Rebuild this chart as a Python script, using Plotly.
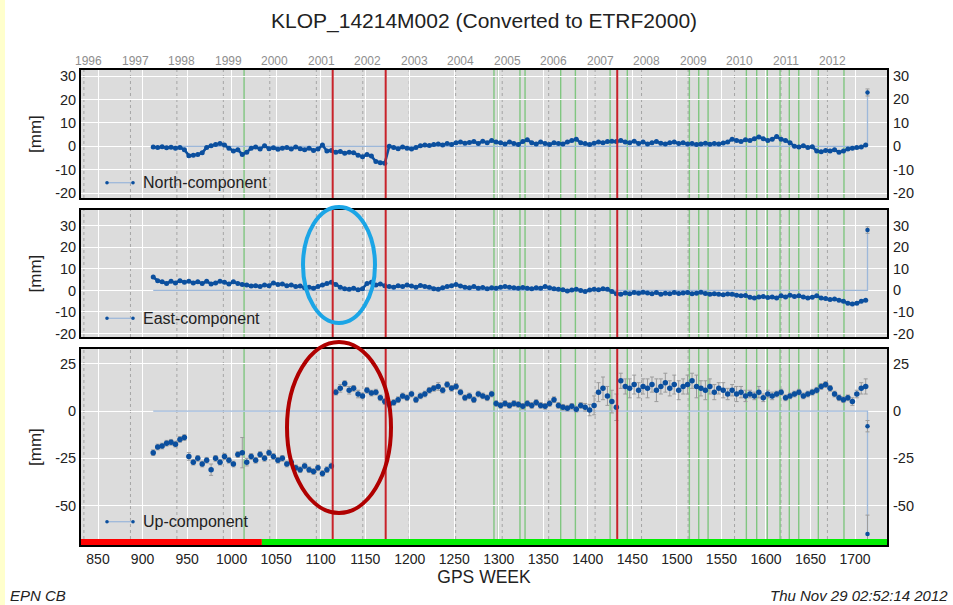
import datetime as dt
import plotly.graph_objects as go

# ---------------- data ----------------
WEEKS = list(range(912, 1713, 5))  # GPS weeks at which values were read

NORTH = [
    -0.3, -0.5, -0.2, -0.6, -0.4, -0.8, -0.5, -1.5, -4.0, -3.8,
    -3.5, -2.8, -0.5, 0.2, 0.8, 1.2, 0.5, -0.8, -2.0, -1.5,
    -3.5, -2.5, -0.8, -0.3, -1.2, 0.2, -1.0, -0.6, -1.3, -0.8,
    -0.5, -1.2, -0.3, -1.0, -1.5, -0.8, -1.8, -1.2, 0.5, -2.0,
    -1.8, -2.5, -2.2, -3.0, -2.5, -2.8, -3.8, -4.5, -3.5, -4.2,
    -6.5, -7.0, -7.2, 0.0, -0.5, -1.0, -0.3, -0.8, -1.2, -0.5,
    0.2, 0.5, 0.3, 0.8, 1.0, 0.6, 1.2, 0.8, 1.5, 1.8,
    1.3, 1.6, 2.0, 1.2, 2.2, 1.5, 2.5, 1.8, 1.5, 1.0,
    1.8, 1.2, 0.8, 2.0, 2.8, 1.5, 1.0, 1.8, 1.2, 0.8,
    1.5, 1.2, 1.0, 1.8, 2.5, 3.0, 1.5, 1.2, 0.8, 1.3,
    1.8, 1.5, 2.0, 2.2, 2.0, 2.5, 1.8, 1.5, 2.2, 1.2,
    1.8, 1.0, 1.5, 2.0, 1.3, 1.0, 1.5, 1.8, 1.2, 1.5,
    1.0, 1.2, 0.8, 1.0, 1.3, 0.9, 1.2, 1.0, 1.4, 1.8,
    3.0, 2.5, 2.0, 2.8, 2.5, 3.2, 4.0, 3.2, 2.5, 3.0,
    4.2, 3.0, 2.5, 1.5, 0.0, -0.3, 0.2, -0.5, -0.2, -2.0,
    -2.3, -1.8, -2.0, -1.5, -2.5, -2.0, -1.2, -0.8, -0.5, -0.3,
    0.5,
]

EAST = [
    6.2, 4.5, 4.0, 3.2, 4.2, 3.5, 4.5, 3.8, 4.2, 3.5,
    4.0, 3.2, 4.2, 3.0, 3.5, 4.2, 3.8, 3.0, 4.0, 3.2,
    2.8, 2.5, 2.0, 2.2, 1.8, 2.5, 2.2, 3.5, 2.8, 3.0,
    2.2, 2.5, 1.8, 2.0, 1.2, 1.5, 1.0, 1.8, 2.5, 3.2,
    3.8, 2.8, 1.5, 0.8, 0.5, 1.0, 0.3, 0.8, 3.2, 3.8,
    2.5, 3.0, 2.2, 1.8, 1.5, 2.2, 1.8, 2.5, 2.0, 1.5,
    2.3, 1.8, 1.5, 0.8, 0.5, 1.2, 1.8, 2.2, 2.8, 2.0,
    1.5, 1.2, 1.8, 1.0, 1.4, 0.8, 1.2, 1.0, 1.5, 1.8,
    1.5, 1.2, 1.0, 1.3, 1.0, 0.8, 1.2, 1.0, 1.8, 1.2,
    0.8, 0.5, 0.3, -0.3, 0.2, 0.5, 0.0, -0.5, 0.2, 0.5,
    0.3, 0.8, 0.5, -0.5, -1.5, -1.8, -1.2, -1.5, -1.0, -1.3,
    -0.8, -1.2, -1.5, -1.0, -1.8, -1.3, -1.5, -1.0, -1.4, -1.2,
    -1.0, -1.5, -1.3, -0.9, -1.4, -1.8, -1.5, -1.8, -2.0, -1.6,
    -1.8, -2.2, -2.5, -2.3, -3.2, -3.5, -3.0, -2.8, -3.3, -3.0,
    -3.5, -2.5, -3.0, -2.2, -2.8, -2.5, -3.0, -3.5, -3.2, -2.5,
    -3.5, -3.8, -4.2, -4.0, -4.5, -5.0, -6.0, -6.3, -6.0, -5.0,
    -4.5,
]

UP = [
    -22, -19, -18.5, -17, -16.5, -17.5, -15, -14, -24, -27,
    -25, -28, -26, -31, -25, -27, -24, -26, -28, -23,
    -22, -27, -24, -26, -23, -25, -22, -24, -26, -25,
    -28, -27, -30, -31, -29, -31, -32, -30, -33, -31,
    -29, 10, 12, 14.5, 11, 12, 9, 8, 11, 9.5,
    10, 7, 5, 3.5, 4.5, 6, 8, 7, 9, 6,
    8, 9, 11, 12, 13, 11, 14, 12, 13, 10,
    7, 8, 6, 9, 8, 7, 9, 4, 3, 4,
    3, 4, 3.5, 2.5, 4, 3, 4.5, 3, 2.5, 4,
    6, 3, 2, 1.5, 2.5, 1, 3, 2, 0.5, 3,
    10, 12, 8, 5, 2, 16, 13, 12, 14, 11,
    13, 12, 14, 11, 13, 15, 12, 14, 11, 13,
    14, 16, 13, 12, 11, 13, 10, 12, 11, 9,
    11, 9, 10, 8, 9, 8, 10, 7, 9, 8,
    9, 10, 7, 8, 9, 10, 8, 9, 10, 11,
    13, 14, 12, 9, 7, 6, 7, 5, 9, 12,
    13,
]

UP_ERR = [
    1.5, 1.5, 1.5, 1.5, 1.5, 1.5, 1.5, 1.5, 2, 1.5,
    1.5, 1.5, 1.5, 3, 1.5, 1.5, 1.5, 1.5, 1.5, 1.5,
    8, 2, 1.5, 1.5, 1.5, 1.5, 1.5, 1.5, 1.5, 1.5,
    1.5, 1.5, 1.5, 1.5, 1.5, 1.5, 1.5, 1.5, 1.5, 1.5,
    1.5, 1.5, 2, 1.5, 2, 1.5, 2, 1.5, 1.5, 1.5,
    1.5, 1.5, 1.5, 1.5, 1.5, 1.5, 1.5, 1.5, 1.5, 1.5,
    1.5, 1.5, 1.5, 1.5, 2, 1.5, 1.5, 1.5, 1.5, 1.5,
    1.5, 1.5, 1.5, 1.5, 1.5, 1.5, 1.5, 1.5, 1.5, 1.5,
    1.5, 1.5, 1.5, 1.5, 1.5, 1.5, 1.5, 1.5, 1.5, 1.5,
    1.5, 1.5, 1.5, 1.5, 1.5, 1.5, 1.5, 2, 3, 5,
    5, 6, 5, 6, 7, 4, 4, 5, 5, 4,
    4, 5, 4, 6, 4, 5, 4, 5, 5, 4,
    5, 4, 6, 4, 5, 4, 4, 3, 4, 3,
    3, 4, 3, 3, 2, 2, 3, 2, 2, 2,
    1.5, 1.5, 1.5, 1.5, 1.5, 1.5, 1.5, 1.5, 1.5, 1.5,
    1.5, 1.5, 1.5, 1.5, 1.5, 1.5, 1.5, 2, 2, 3,
    4,
]

SPIKE_WEEK = 1714
NORTH_SPIKE = [23]
EAST_SPIKE = [28]
UP_SPIKE = [-8, -65]
UP_SPIKE_ERR = [3, 10]

GREEN_EVENTS = [1014, 1294.6, 1299.5, 1323.8, 1329.5, 1369.5, 1386, 1425, 1444.3,
                1514, 1524.5, 1535, 1578, 1589.6, 1601.5, 1615.8, 1626.2, 1636.8,
                1658.8, 1687.6]
RED_EVENTS = [1113.5, 1173, 1433]
STATUS_CHANGE_WEEK = 1034  # red -> green bar

YEARS = list(range(1996, 2013))
X_TICKS = list(range(850, 1701, 50))

TITLE = "KLOP_14214M002 (Converted to ETRF2000)"
COMPONENTS = ["North-component", "East-component", "Up-component"]

# ---------------- layout helpers ----------------
W, H = 953, 605
ML, MR, MT, MB = 81, 66, 70, 60
PW, PH = W - ML - MR, H - MT - MB


def px_x(p):
    return (p - ML) / PW


def px_y(p):
    return (H - MB - p) / PH


X_RANGE = [830.9, 1735.9]
Y_RANGES = [[-22.1, 32.6], [-21.6, 37.3], [-70.8, 32.8]]
Y_TICKS = [[-20, -10, 0, 10, 20, 30], [-20, -10, 0, 10, 20, 30], [-50, -25, 0, 25]]
DOMAINS = [[px_y(198), 1.0], [px_y(337), px_y(210)], [0.0, px_y(349)]]
LEGEND_Y = [182.7, 318.3, 521.7]

GPS_EPOCH = dt.date(1980, 1, 6)
YEAR_WEEKS = [(dt.date(y, 1, 1) - GPS_EPOCH).days / 7.0 for y in YEARS]

BLUE = "#0B4F9E"
REF = "#9DB8DA"
BG = "#DCDCDC"
TXT = "#222222"
FONT = "Liberation Sans, Arial, Helvetica, sans-serif"

fig = go.Figure()

series = [NORTH, EAST, UP]
spikes = [NORTH_SPIKE, EAST_SPIKE, UP_SPIKE]
for i in range(3):
    xa = "x" if i == 0 else f"x{i+1}"
    ya = "y" if i == 0 else f"y{i+1}"
    sp = spikes[i]
    fig.add_trace(go.Scatter(
        x=[WEEKS[0], SPIKE_WEEK, SPIKE_WEEK], y=[0, 0, min(sp) if i == 2 else max(sp)],
        mode="lines", line=dict(color=REF, width=1.3),
        xaxis=xa, yaxis=ya, showlegend=False, hoverinfo="skip"))
    if i < 2:
        fig.add_trace(go.Scatter(
            x=WEEKS, y=series[i], mode="lines",
            line=dict(color=BLUE, width=2.6),
            xaxis=xa, yaxis=ya, showlegend=False, hoverinfo="skip"))
    err = dict(type="data", array=UP_ERR, color="#9C9C9C", thickness=1, width=2) if i == 2 else None
    fig.add_trace(go.Scatter(
        x=WEEKS, y=series[i], mode="markers",
        marker=dict(color=BLUE, size=5 if i < 2 else 5.5),
        error_y=err, xaxis=xa, yaxis=ya, showlegend=False))
    sp_err = UP_SPIKE_ERR if i == 2 else [1.5]
    fig.add_trace(go.Scatter(
        x=[SPIKE_WEEK] * len(sp), y=sp, mode="markers",
        marker=dict(color=BLUE, size=4.5),
        error_y=dict(type="data", array=sp_err, color="#9C9C9C", thickness=1, width=2),
        xaxis=xa, yaxis=ya, showlegend=False))

layout = dict(
    width=W, height=H, autosize=False,
    margin=dict(l=ML, r=MR, t=MT, b=MB),
    paper_bgcolor="white", plot_bgcolor=BG,
    font=dict(family=FONT, color=TXT, size=14),
    showlegend=False,
)

for i in range(3):
    xk = "xaxis" if i == 0 else f"xaxis{i+1}"
    yk = "yaxis" if i == 0 else f"yaxis{i+1}"
    ya = "y" if i == 0 else f"y{i+1}"
    xa = "x" if i == 0 else f"x{i+1}"
    layout[xk] = dict(
        domain=[0, 1], anchor=ya, range=X_RANGE, tickvals=X_TICKS,
        showticklabels=(i == 2), showgrid=True, gridcolor="white", gridwidth=1,
        zeroline=False, showline=True, linecolor="black", linewidth=2, mirror=True,
        ticks="", tickfont=dict(size=14, color=TXT),
    )
    layout[yk] = dict(
        domain=DOMAINS[i], anchor=xa, range=Y_RANGES[i], tickvals=Y_TICKS[i],
        ticktext=[str(v) for v in Y_TICKS[i]],
        showgrid=True, gridcolor="white", gridwidth=1, zeroline=False,
        showline=True, linecolor="black", linewidth=2, mirror=True,
        ticks="", tickfont=dict(size=14.5, color=TXT),
    )

layout["xaxis3"]["title"] = dict(text="GPS WEEK", font=dict(size=17.5, color=TXT), standoff=2)
fig.update_layout(**layout)

shapes = []
shapes.append(dict(type="rect", xref="paper", yref="paper", x0=px_x(0), x1=px_x(5),
                   y0=px_y(H), y1=px_y(0), fillcolor="#FFFFCC", line=dict(width=0), layer="below"))
for i in range(3):
    xa = "x" if i == 0 else f"x{i+1}"
    yd = ("y" if i == 0 else f"y{i+1}") + " domain"
    for w in YEAR_WEEKS:
        if X_RANGE[0] < w < X_RANGE[1]:
            shapes.append(dict(type="line", xref=xa, yref=yd, x0=w, x1=w, y0=0, y1=1,
                               line=dict(color="#A5A5A5", width=1, dash="3px,3px"), layer="below"))
    for w in GREEN_EVENTS:
        shapes.append(dict(type="line", xref=xa, yref=yd, x0=w, x1=w, y0=0, y1=1,
                           line=dict(color="#80C680", width=1.4), layer="below"))
    for w in RED_EVENTS:
        shapes.append(dict(type="line", xref=xa, yref=yd, x0=w, x1=w, y0=0, y1=1,
                           line=dict(color="#C8222A", width=2), layer="above"))
shapes.append(dict(type="rect", xref="x3", yref="y3 domain", x0=X_RANGE[0], x1=STATUS_CHANGE_WEEK,
                   y0=0, y1=0.03, fillcolor="#FF0000", line=dict(width=0), layer="above"))
shapes.append(dict(type="rect", xref="x3", yref="y3 domain", x0=STATUS_CHANGE_WEEK, x1=X_RANGE[1],
                   y0=0, y1=0.03, fillcolor="#00EE00", line=dict(width=0), layer="above"))

annotations = []
for i, name in enumerate(COMPONENTS):
    ly = LEGEND_Y[i]
    ya = "y" if i == 0 else f"y{i+1}"
    shapes.append(dict(type="line", xref="paper", yref="paper", x0=px_x(107), x1=px_x(133),
                       y0=px_y(ly), y1=px_y(ly), line=dict(color=REF, width=1.3), layer="above"))
    for cx in (107, 133):
        shapes.append(dict(type="circle", xref="paper", yref="paper",
                           x0=px_x(cx - 1.8), x1=px_x(cx + 1.8), y0=px_y(ly + 1.8), y1=px_y(ly - 1.8),
                           fillcolor=BLUE, line=dict(width=0), layer="above"))
    annotations.append(dict(xref="paper", yref="paper", x=px_x(141), y=px_y(ly),
                            xanchor="left", yanchor="middle", showarrow=False,
                            text=name, font=dict(size=16, color=TXT)))
    d = DOMAINS[i]
    annotations.append(dict(xref="paper", yref="paper", x=px_x(35), y=(d[0] + d[1]) / 2,
                            xanchor="center", yanchor="middle", showarrow=False, textangle=-90,
                            text="[mm]", font=dict(size=17, color=TXT)))
    for v in Y_TICKS[i]:
        annotations.append(dict(xref="paper", yref=ya, x=px_x(891), y=v, xanchor="left",
                                yanchor="middle", showarrow=False, text=str(v),
                                font=dict(size=14.5, color=TXT)))

for y, w in zip(YEARS, YEAR_WEEKS):
    annotations.append(dict(xref="x", yref="paper", x=w, xshift=5, y=px_y(61), xanchor="center",
                            yanchor="middle", showarrow=False, text=str(y),
                            font=dict(size=12, color="#8E8E8E")))

shapes.append(dict(type="circle", xref="paper", yref="paper", x0=px_x(303), x1=px_x(375),
                   y0=px_y(323), y1=px_y(207), line=dict(color="#1BA5E6", width=4), layer="above"))
shapes.append(dict(type="circle", xref="paper", yref="paper", x0=px_x(287), x1=px_x(391),
                   y0=px_y(513), y1=px_y(342), line=dict(color="#B00000", width=4), layer="above"))

annotations.append(dict(xref="paper", yref="paper", x=px_x(484), y=px_y(20.7), xanchor="center",
                        yanchor="middle", showarrow=False, text=TITLE, font=dict(size=21, color=TXT)))
annotations.append(dict(xref="paper", yref="paper", x=px_x(8), y=px_y(595), xanchor="left",
                        yanchor="middle", showarrow=False, text="<i>EPN CB</i>", font=dict(size=15, color=TXT)))
annotations.append(dict(xref="paper", yref="paper", x=px_x(950), y=px_y(595), xanchor="right",
                        yanchor="middle", showarrow=False, text="<i>Thu Nov 29 02:52:14 2012</i>",
                        font=dict(size=15, color=TXT)))

fig.update_layout(shapes=shapes, annotations=annotations)
fig.write_html("out.html")
